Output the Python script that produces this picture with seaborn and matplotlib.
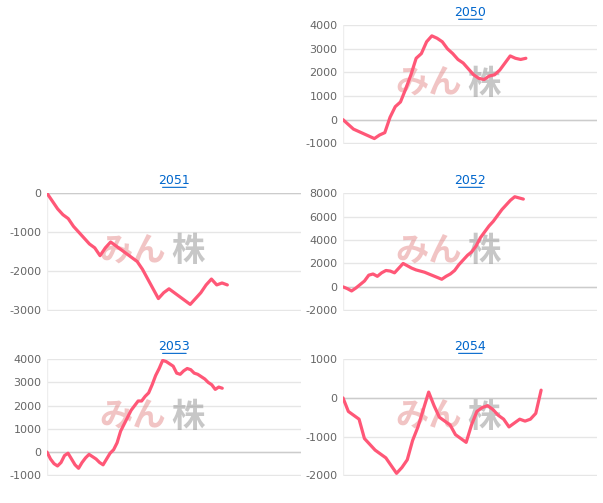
import matplotlib
matplotlib.use("Agg")
import matplotlib.pyplot as plt
import seaborn as sns
import pandas as pd

sns.set_style("white")
plt.rcParams['font.family'] = ['DejaVu Sans', 'Noto Sans CJK JP']
plt.rcParams['axes.unicode_minus'] = False

titles = ["2050", "2051", "2052", "2053", "2054"]
s2050 = [0,-200,-400,-500,-600,-700,-800,-650,-550,100,550,750,1300,1900,2600,2800,3300,3550,3450,3300,3000,2800,2550,2400,2150,1900,1750,1700,1850,1900,2100,2400,2700,2600,2550,2600]
s2051 = [0,-200,-400,-550,-650,-850,-1000,-1150,-1300,-1400,-1600,-1400,-1250,-1350,-1450,-1550,-1650,-1750,-1950,-2200,-2450,-2700,-2550,-2450,-2550,-2650,-2750,-2850,-2700,-2550,-2350,-2200,-2350,-2300,-2350]
s2052 = [0,-150,-350,-100,200,500,1000,1100,900,1200,1400,1350,1200,1600,2000,1800,1600,1450,1350,1250,1100,950,800,650,900,1100,1400,1900,2300,2700,3000,3500,4200,4700,5200,5600,6100,6600,7000,7400,7700,7600,7500]
s2053 = [0,-300,-500,-600,-450,-150,-50,-300,-550,-700,-450,-250,-100,-200,-300,-450,-550,-300,-50,100,400,900,1200,1500,1800,2000,2200,2200,2400,2550,2900,3300,3600,3950,3900,3800,3700,3400,3350,3500,3600,3550,3400,3350,3250,3150,3000,2900,2700,2800,2750]
s2054 = [0,-350,-450,-550,-1050,-1200,-1350,-1450,-1550,-1750,-1950,-1800,-1600,-1100,-750,-300,150,-200,-500,-600,-700,-950,-1050,-1150,-700,-350,-250,-200,-300,-450,-550,-750,-650,-550,-600,-550,-400,200]
series = [s2050, s2051, s2052, s2053, s2054]
yticks = [[-1000,0,1000,2000,3000,4000],[-3000,-2000,-1000,0],[-2000,0,2000,4000,6000,8000],
          [-1000,0,1000,2000,3000,4000],[-2000,-1000,0,1000]]
ends = [0.72, 0.71, 0.71, 0.69, 0.78]

fig = plt.figure(figsize=(6.03, 5.03), dpi=100)
L, R, W = 47/603, 343/603, 254/603
boxes = [(R, 0.714, W, 0.237), (L, 0.382, W, 0.235), (R, 0.382, W, 0.235),
         (L, 0.054, W, 0.233), (R, 0.054, W, 0.233)]

for t, s, yt, e, b in zip(titles, series, yticks, ends, boxes):
    ax = fig.add_axes(b)
    df = pd.DataFrame({"x": range(len(s)), "y": s})
    sns.lineplot(data=df, x="x", y="y", ax=ax, color="#ff5777", linewidth=2.3, zorder=5)
    ax.set_xlim(0, (len(s)-1)/e)
    span = yt[-1] - yt[0]
    ax.set_ylim(yt[0] - span*0.005, yt[-1] + span*0.005)
    ax.set_yticks(yt)
    ax.set_xticks([])
    ax.set_xlabel(""); ax.set_ylabel("")
    ax.grid(axis="y", color="#e6e6e6", linewidth=1)
    ax.axhline(0, color="#cccccc", linewidth=1, zorder=2)
    for sp in ax.spines.values():
        sp.set_visible(False)
    ax.axvline(0, color="#eeeeee", linewidth=1)
    ax.tick_params(axis="y", labelsize=8, colors="#666666", length=0, pad=4)
    ax.set_title(t, fontsize=9, color="#0066cc", pad=6)
    ax.annotate("", xy=(0.455, 1.045), xytext=(0.548, 1.045), xycoords="axes fraction",
                arrowprops=dict(arrowstyle="-", color="#0066cc", lw=0.8, shrinkA=0, shrinkB=0))
    ax.text(0.47, 0.5, "みん", transform=ax.transAxes, fontsize=24, fontweight="bold",
            color="#e58a8a", alpha=0.5, ha="right", va="center",
            family=["Noto Sans CJK JP"], zorder=1)
    ax.text(0.49, 0.5, "株", transform=ax.transAxes, fontsize=24, fontweight="bold",
            color="#999999", alpha=0.55, ha="left", va="center",
            family=["Noto Sans CJK JP"], zorder=1)

fig.savefig("out.png", dpi=100)
